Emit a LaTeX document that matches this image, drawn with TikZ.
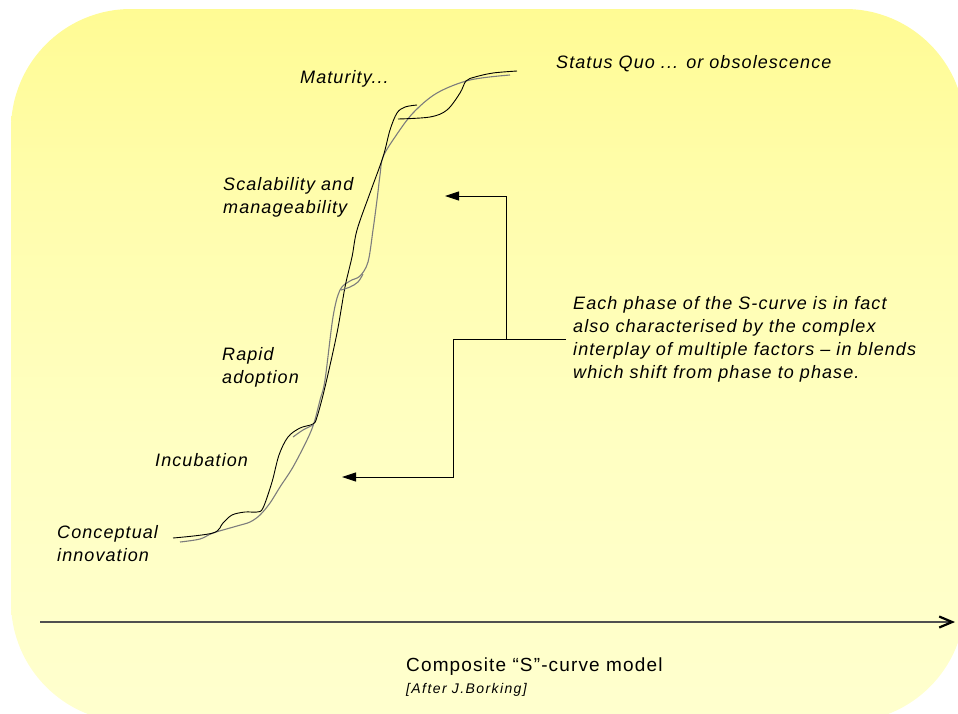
\documentclass[tikz,border=0pt]{standalone}
\usepackage{fontspec}
\setmainfont{Liberation Sans}
\newfontfamily\lblfont[LetterSpace=6]{Liberation Sans}
\newfontfamily\subfont[LetterSpace=10]{Liberation Sans}
\usetikzlibrary{arrows.meta}
\definecolor{bgtop}{RGB}{255,251,148}
\definecolor{bgmidA}{RGB}{255,253,172}
\definecolor{bgmidB}{RGB}{255,255,194}
\definecolor{bgbot}{RGB}{255,255,206}
\definecolor{curvegray}{RGB}{125,125,125}
\definecolor{axisgray}{RGB}{80,80,80}
\pgfdeclareverticalshading{bgshade}{100bp}{color(0bp)=(bgbot); color(25bp)=(bgbot); color(45bp)=(bgmidB); color(62bp)=(bgmidA); color(75bp)=(bgtop); color(100bp)=(bgtop)}
\begin{document}
\begin{tikzpicture}[x=1pt,y=-1pt,
  lbl/.style={font=\lblfont\fontsize{18}{23}\selectfont\itshape, align=left, inner sep=0pt, anchor=west},
  blackcurve/.style={black, line width=0.9pt},
  graycurve/.style={curvegray, line width=1.1pt},
  conn/.style={black, line width=0.9pt},
  tri/.style={-{Triangle[length=14pt,width=9pt]}},
  axisline/.style={axisgray, line width=1.2pt, -{Straight Barb[length=13pt,width=11pt,line width=2.2pt,color=black]}}]
\useasboundingbox (0,0) rectangle (958,713);
\begin{scope}
  \clip (0,0) rectangle (958,713);
  \shade[shading=bgshade, rounded corners=120pt] (11,9) rectangle (965,722);
\end{scope}

% curves
\draw[graycurve] plot[smooth,tension=0.55] coordinates {(180,542) (200,539) (213,533) (237,526) (250,522) (260,515) (270,503) (280,487) (293,467) (307,440) (314,423) (320,400) (325,380) (333,317) (340,290) (350,281) (360,276) (368,262) (373,230) (377,200) (380,175) (383,157) (395,137) (413,113) (437,93) (470,80) (510,75)};
\draw[blackcurve] plot[smooth,tension=0.55] coordinates {(173,538) (213,533) (223,523) (232,515) (245,512) (257,512) (263,508) (272,482) (279,455) (288,437) (300,428) (313,424) (317,417) (325,387) (337,333) (345,287) (352,257) (357,230) (370,193) (383,157) (390,130) (397,113) (405,107) (417,105)};
\draw[blackcurve] plot[smooth,tension=0.55] coordinates {(398,119) (430,117) (447,110) (460,93) (466,81) (475,77) (493,73) (517,71)};
\draw[graycurve] plot[smooth,tension=0.55] coordinates {(293,437) (303,430) (313,425)};
\draw[graycurve] plot[smooth,tension=0.55] coordinates {(341,290) (350,287) (358,282) (363,274)};

% labels
\node[lbl] (status) at (556,64) {Status Quo ... or obsolescence};
\node[lbl] (maturity) at (300,79) {Maturity...};
\node[lbl] (scal) at (223,197) {Scalability and\\manageability};
\node[lbl] (rapid) at (222,367) {Rapid\\adoption};
\node[lbl] (incub) at (155,460) {Incubation};
\node[lbl] (concept) at (57,544) {Conceptual\\innovation};

% note and connectors
\node[lbl, inner xsep=7pt] (note) at (566,339) {Each phase of the S-curve is in fact\\also characterised by the complex\\interplay of multiple factors – in blends\\which shift from phase to phase.};
\coordinate (j1) at (506,339);
\coordinate (j2) at (453,339);
\coordinate (t1) at (445,196);
\coordinate (t2) at (342,477);
\draw[conn] (note.west) -- (j2);
\draw[conn,tri] (j1) |- (t1);
\draw[conn,tri] (j2) |- (t2);

% axis
\coordinate (a0) at (40,622);
\coordinate (a1) at (955,622);
\draw[axisline] (a0) -- (a1);

% title
\node[font=\lblfont\fontsize{19}{23}\selectfont, anchor=west, inner sep=0pt] (title) at (406,667) {Composite “S”-curve model};
\node[font=\subfont\fontsize{14}{16}\selectfont\itshape, anchor=west, inner sep=0pt] (after) at (406,690) {[After J.Borking]};
\end{tikzpicture}
\end{document}
